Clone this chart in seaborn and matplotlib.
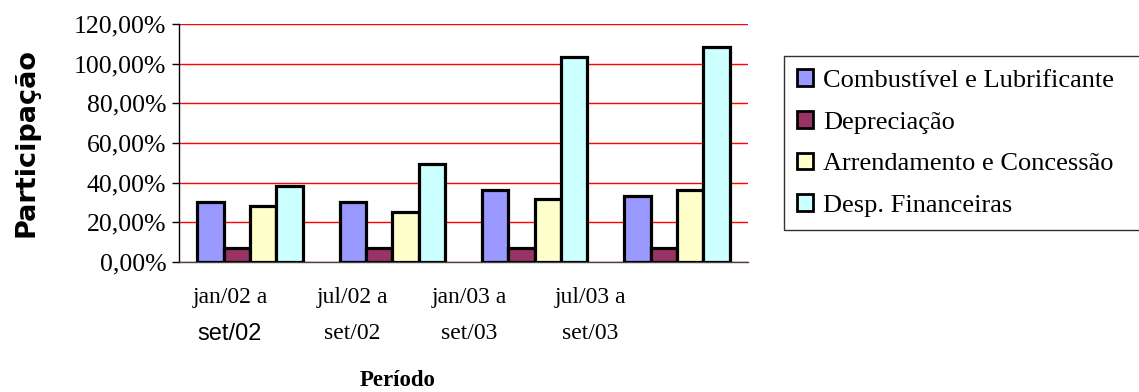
import matplotlib
matplotlib.use("Agg")
import matplotlib.pyplot as plt
import seaborn as sns
import pandas as pd

# Period labels (two lines each)
periods_top = ["jan/02 a", "jul/02 a", "jan/03 a", "jul/03 a"]
periods_bottom = ["set/02", "set/02", "set/03", "set/03"]
period_keys = ["P1", "P2", "P3", "P4"]

# Cost shares (%) per period
series_names = ["Combustível e Lubrificante", "Depreciação",
                "Arrendamento e Concessão", "Desp. Financeiras"]
combustivel = [30.0, 30.0, 36.0, 33.0]
depreciacao = [7.0, 7.0, 7.0, 7.0]
arrendamento = [28.0, 25.0, 31.5, 36.0]
financeiras = [38.5, 49.5, 103.5, 108.5]

y_ticks = [0, 20, 40, 60, 80, 100, 120]
y_tick_labels = ["0,00%", "20,00%", "40,00%", "60,00%", "80,00%", "100,00%", "120,00%"]

colors = ["#9999FF", "#993366", "#FFFFCC", "#CCFFFF"]

# Horizontal placement of the category labels (axes fraction)
label_x = [0.0896, 0.304, 0.510, 0.722]

rows = []
for name, vals in zip(series_names, [combustivel, depreciacao, arrendamento, financeiras]):
    for key, v in zip(period_keys, vals):
        rows.append({"periodo": key, "serie": name, "valor": v})
df = pd.DataFrame(rows)

sns.set_theme(style="white")
plt.rcParams["font.family"] = ["Liberation Serif", "DejaVu Serif"]
plt.rcParams["text.color"] = "black"
plt.rcParams["axes.labelcolor"] = "black"
plt.rcParams["xtick.color"] = "black"
plt.rcParams["ytick.color"] = "black"

fig = plt.figure(figsize=(11.39, 3.92), dpi=100)
ax = fig.add_axes([0.157, 0.332, 0.5, 0.607])

sns.barplot(data=df, x="periodo", y="valor", hue="serie", order=period_keys,
            hue_order=series_names, palette=colors, saturation=1, width=0.74,
            edgecolor="black", linewidth=2.3, errorbar=None, ax=ax, zorder=3)

ax.set_ylim(0, 120)
ax.set_yticks(y_ticks)
ax.set_yticklabels(y_tick_labels, fontsize=18.5, color="black")
ax.yaxis.grid(True, color="#FF0000", linewidth=1.0, zorder=0)
ax.set_axisbelow(True)
ax.set_xlim(-0.5, 3.5)

# Category ticks between groups
ax.set_xticks([-0.5, 0.5, 1.5, 2.5, 3.5], minor=True)
ax.set_xticks(range(len(period_keys)))
ax.set_xticklabels([""] * len(period_keys))
ax.tick_params(axis="x", which="major", length=0)
ax.tick_params(axis="x", which="minor", length=5, width=1, color="black", direction="out")
ax.tick_params(axis="y", length=5, width=1, color="black", direction="out", left=True, pad=4)

for side in ["top", "right"]:
    ax.spines[side].set_visible(False)
ax.spines["left"].set_color("black")
ax.spines["left"].set_linewidth(1.0)
ax.spines["bottom"].set_color("#444444")
ax.spines["bottom"].set_linewidth(1.0)

# Two-line period labels
for i, (top, bottom) in enumerate(zip(periods_top, periods_bottom)):
    ax.text(label_x[i], -0.151, top, transform=ax.transAxes, ha="center",
            va="center", fontsize=17, color="black")
    fam = ["Liberation Sans", "DejaVu Sans"] if i == 0 else ["Liberation Serif", "DejaVu Serif"]
    ax.text(label_x[i], -0.303, bottom, transform=ax.transAxes, ha="center",
            va="center", fontsize=17, family=fam, color="black")

ax.set_xlabel("")
ax.text(0.385, -0.5, "Período", transform=ax.transAxes, ha="center",
        va="center", fontsize=16.5, fontweight="bold", color="black")

ax.set_ylabel("Participação", fontsize=19.5, fontweight="heavy",
              family=["DejaVu Sans"], color="black")
ax.yaxis.set_label_coords(-0.245, 0.5)

handles, labels = ax.get_legend_handles_labels()
if ax.get_legend():
    ax.get_legend().remove()
leg = fig.legend(handles, labels, loc="upper left",
                 bbox_to_anchor=(0.688, 0.426, 0.32, 0.431), mode="expand",
                 fontsize=19, frameon=True, fancybox=False, edgecolor="black",
                 handlelength=0.6, handleheight=0.6, handletextpad=0.4,
                 labelspacing=0.72, borderpad=0.5, borderaxespad=0,
                 labelcolor="black")
leg.get_frame().set_linewidth(1.0)
for h in leg.legend_handles:
    h.set_edgecolor("black")
    h.set_linewidth(2.0)

fig.savefig("out.png", dpi=100, facecolor="white")
